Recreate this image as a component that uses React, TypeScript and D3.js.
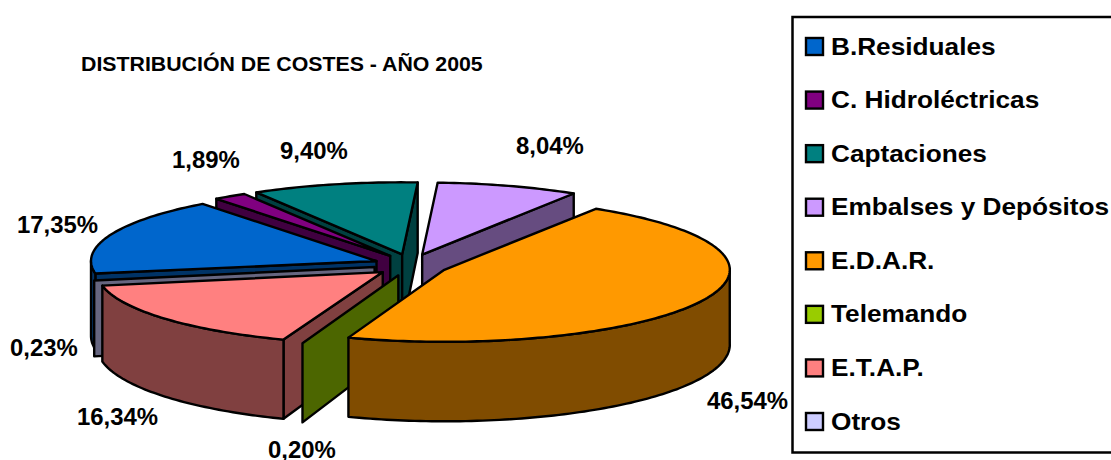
import React from "react";
import * as d3 from "d3";

const categories = ["B.Residuales","C. Hidroléctricas","Captaciones","Embalses y Depósitos","E.D.A.R.","Telemando","E.T.A.P.","Otros"];
const shares = [17.35,1.89,9.40,8.04,46.54,0.20,16.34,0.23];
const valueLabels = ["17,35%","1,89%","9,40%","8,04%","46,54%","0,20%","16,34%","0,23%"];
const topColors = ["#0066CC","#800080","#008080","#CC99FF","#FF9900","#99CC00","#FF8080","#CCCCFF"];
const sideColors = ["#003366","#400040","#004040","#664C80","#804C00","#4C6600","#804040","#666680"];
const labelSpots: [number,number][] = [[17,233],[172,168],[280,159],[516,154],[707,409],[268,458],[77,425],[10,356]];
const paintOrder = [3,2,1,0,7,6,5,4];
const titleText = "DISTRIBUCIÓN DE COSTES - AÑO 2005";

const CX = 411, CY = 265, RX = 285.5, RY = 72, EX = 37, EY = 11;
const THIN_SHARE = 0.5;
const FONT = "'Liberation Sans', Arial, sans-serif";

const pie = d3.pie<number>().sort(null).startAngle((-100*Math.PI)/180).endAngle((260*Math.PI)/180);
const arcs = pie(shares);
const depth = (t:number) => 75 - 4.5*Math.cos(t);
const line = d3.line<[number,number]>();

function App(){
  const faces = paintOrder.map(i=>{
    const a = arcs[i];
    const thin = shares[i] < THIN_SHARE;
    const mid = (a.startAngle+a.endAngle)/2;
    const ox = CX + EX*Math.sin(mid), oy = CY - EY*Math.cos(mid);
    const rim = (t:number):[number,number] => [ox+RX*Math.sin(t), oy-RY*Math.cos(t)];
    const drop = (p:[number,number],t:number):[number,number] => [p[0],p[1]+depth(t)];
    const n = Math.max(2,Math.ceil((a.endAngle-a.startAngle)/0.02));
    const ts = d3.range(n+1).map(k=>a.startAngle+(a.endAngle-a.startAngle)*k/n);
    const apex:[number,number] = [ox,oy];
    const top = thin ? null : line([apex,...ts.map(rim)])+"Z";
    const cut = (t:number) => line([apex,rim(t),drop(rim(t),t),[ox,oy+depth(Math.PI/2)-1]])+"Z";
    const shown:string[] = [];
    if(Math.sin(a.startAngle)<0) shown.push(cut(a.startAngle));
    if(Math.sin(a.endAngle)>0) shown.push(cut(a.endAngle));
    const wallTs = ts.filter(t=>Math.cos(t)<0.02);
    if(!thin && wallTs.length>1){
      shown.push(line([...wallTs.map(rim),...wallTs.slice().reverse().map(t=>drop(rim(t),t))])+"Z");
    }
    return {i,top,shown};
  });
  const rowY = d3.scaleLinear().domain([0,7]).range([46,421]);
  return (
    <svg width={1111} height={460} style={{position:"absolute",left:0,top:0,background:"#fff"}} fontFamily={FONT} fontWeight="bold">
      <text transform="translate(81,71) scale(1.066,1)" fontSize={20}>{titleText}</text>
      {faces.map(f=>(
        <g key={f.i} stroke="#000" strokeWidth={2.4} strokeLinejoin="round">
          {f.shown.map((d,k)=><path key={k} d={d} fill={sideColors[f.i]}/>)}
          {f.top && <path d={f.top} fill={topColors[f.i]}/>}
        </g>
      ))}
      {valueLabels.map((t,i)=>(
        <text key={t} transform={`translate(${labelSpots[i][0]},${labelSpots[i][1]}) scale(1.04,1)`} fontSize={23}>{t}</text>
      ))}
      <rect x={792.5} y={17} width={340} height={435.5} fill="none" stroke="#000" strokeWidth={2.5}/>
      {categories.map((c,i)=>{
        const y = rowY(i);
        return <g key={c}>
          <rect x={806} y={y-8} width={17} height={17} fill={topColors[i]} stroke="#000" strokeWidth={2.4}/>
          <text transform={`translate(831,${y+8.5}) scale(1.07,1)`} fontSize={24.5}>{c}</text>
        </g>;
      })}
    </svg>
  );
}
export default App;
